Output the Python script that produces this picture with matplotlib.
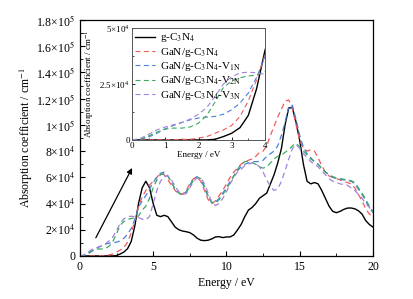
import numpy as np
import matplotlib
matplotlib.use("Agg")
import matplotlib.pyplot as plt
from matplotlib.ticker import MultipleLocator, FixedLocator, FuncFormatter

plt.rcParams['font.family'] = ['Liberation Serif', 'DejaVu Serif']
plt.rcParams['mathtext.fontset'] = 'stix'

# Photon energy (eV), 0.25 eV steps
energy = np.arange(0, 20.01, 0.25)

# Absorption coefficients, in units of 1e3 cm^-1
g_c3n4 = [0, 0, 0, 0, 0, 0, 0, 0, 0, 0, 0.3, 1.5, 3, 5.5, 11, 23,
          40, 52, 57, 52, 40, 31, 30, 31, 30, 26, 22, 20, 19, 18.5, 17.8, 16,
          13.5, 12, 11.7, 12, 13, 14.5, 14.7, 14, 14.5, 14.5, 16, 19.8, 24, 30, 35, 37,
          40, 44, 46, 48, 55, 62, 71, 82, 100, 113, 113, 102, 88, 70, 57, 55,
          56, 55, 50, 44, 38, 34, 33, 34, 35.5, 36.5, 36.6, 36, 34.5, 32, 27, 24, 22]
gan_g = [0, 0, 0, 0, 0.1, 0.1, 0.2, 0.3, 0.8, 1.5, 3, 4.5, 6.5, 10.5, 17.5, 27,
         38, 45, 50, 54, 57, 60, 63, 62, 58, 54, 50, 47, 47, 50, 55, 59,
         60, 57, 50, 43, 40, 42, 46, 50, 55, 60, 64, 67, 70, 72, 73, 74,
         76, 79, 80, 84, 92, 99, 106, 112, 118, 119, 112, 100, 88, 82, 80, 81,
         80, 75, 69, 64, 61, 60, 59, 58, 57, 56, 55, 52, 47, 42, 36, 32, 30]
gan_v1n = [0, 0.3, 1.3, 3, 5, 6.5, 7.8, 9, 9.8, 10.2, 10.5, 11.5, 13.5, 16.5, 21, 28,
           37, 42, 46, 51, 56, 60, 63, 64, 61, 56, 51, 48, 47, 49, 54, 59,
           60.5, 58, 52, 45, 40.5, 41, 44, 48, 52, 57, 61, 65, 68, 70, 71, 72,
           72, 72, 73, 76, 78, 80, 84, 92, 102, 114, 115, 104, 92, 83, 78, 75,
           72, 70, 67, 64, 62, 60, 59, 58.5, 58, 57.5, 57, 55, 51, 47, 42, 37, 33]
gan_v2n = [0, 0.3, 1.8, 3.5, 4.8, 5.3, 5.3, 5.8, 7.5, 11, 17, 23.5, 26.3, 27.8, 28.6, 29,
           30.5, 35, 38, 44, 52, 58, 62, 63, 61, 56, 51, 48, 47, 48, 53, 58,
           60, 59, 53, 46, 41, 40, 43, 47, 51, 56, 61, 66, 70, 72, 72, 71,
           70, 68, 67, 68, 71, 74, 76, 77, 79, 81, 84, 86, 83, 80, 77, 74,
           72, 70, 67, 64, 62, 60.5, 59.5, 59, 58.5, 58, 57.5, 56, 52, 48, 43, 38, 34]
gan_v3n = [0, 0.7, 2.5, 4.5, 5.8, 6.8, 7.8, 9.3, 11.5, 14.5, 19.5, 25, 28.3, 30, 30.3, 30,
           29.3, 28, 27.5, 30, 40, 50, 57, 61, 61, 58, 53, 49, 47, 47.5, 52, 57,
           59.5, 59.5, 55, 48, 41, 38.5, 40, 44, 49, 55, 60, 64, 66, 69, 70, 71,
           70.5, 68, 64, 58, 53, 50, 51, 57, 65, 74, 82, 85, 82, 78, 75, 72,
           70, 68, 65, 62, 59, 57, 56, 55, 54.5, 54, 52, 50, 47, 44, 40, 37, 34]

labels = ['g-C$_3$N$_4$', 'GaN/g-C$_3$N$_4$', r'GaN/g-C$_3$N$_4$-V$_\mathrm{1N}$',
          r'GaN/g-C$_3$N$_4$-V$_\mathrm{2N}$', r'GaN/g-C$_3$N$_4$-V$_\mathrm{3N}$']
series = [g_c3n4, gan_g, gan_v1n, gan_v2n, gan_v3n]
colors = ['black', '#f05a5a', '#4a80d8', '#3aaa60', '#a183dc']


def sci_fmt(v, pos):
    if v == 0:
        return '0'
    exp = int(np.floor(np.log10(abs(v)) + 1e-9))
    mant = v / 10 ** exp
    return f'{mant:g}×10$^{exp}$'


fig = plt.figure(figsize=(4.14, 2.99), dpi=100)
ax = fig.add_axes([0.193, 0.144, 0.708, 0.789])

for y, lab, c in zip(series, labels, colors):
    y = np.array(y) * 1e3
    if c == 'black':
        ax.plot(energy, y, color=c, lw=1.0, label=lab)
    else:
        ax.plot(energy, y, color=c, lw=0.9, dashes=(4.5, 3), label=lab)

ax.set_xlim(0, 20)
ax.set_ylim(0, 1.8e5)
ax.xaxis.set_major_locator(MultipleLocator(5))
ax.xaxis.set_minor_locator(MultipleLocator(2.5))
ax.yaxis.set_major_locator(MultipleLocator(2e4))
ax.yaxis.set_minor_locator(MultipleLocator(1e4))
ax.yaxis.set_major_formatter(FuncFormatter(sci_fmt))
ax.tick_params(which='both', direction='in', labelsize=8.5)
ax.tick_params(which='major', length=3.5, width=0.8)
ax.tick_params(which='minor', length=2, width=0.6)
ax.set_xlabel('Energy / eV', fontsize=8.5, labelpad=3)
ax.set_ylabel('Absorption coefficient / cm$^{-1}$', fontsize=8.5, labelpad=1)
for s in ax.spines.values():
    s.set_linewidth(0.9)

ax.annotate('', xy=(3.65, 69e3), xytext=(1.0, 12e3),
            arrowprops=dict(arrowstyle='-|>', color='black', lw=0.9,
                            mutation_scale=8))

# inset: low energy region
ins = fig.add_axes([0.319, 0.532, 0.321, 0.374])
for y, lab, c in zip(series, labels, colors):
    y = np.array(y) * 1e3
    if c == 'black':
        ins.plot(energy, y, color=c, lw=1.0, label=lab)
    else:
        ins.plot(energy, y, color=c, lw=0.8, dashes=(4.5, 3), label=lab)
ins.set_xlim(0, 4)
ins.set_ylim(0, 5e4)
ins.xaxis.set_major_locator(MultipleLocator(1))
ins.xaxis.set_minor_locator(MultipleLocator(0.5))
ins.yaxis.set_major_locator(FixedLocator([0, 2.5e4, 5e4]))
ins.yaxis.set_minor_locator(MultipleLocator(1.25e4))
ins.yaxis.set_major_formatter(FuncFormatter(sci_fmt))
ins.tick_params(which='both', direction='in', labelsize=6.5, pad=1.5)
ins.tick_params(which='major', length=2.5, width=0.6)
ins.tick_params(which='minor', length=1.5, width=0.5)
ins.set_xlabel('Energy / eV', fontsize=6.5, labelpad=1)
ins.set_ylabel('Absorption coefficient / cm$^{-1}$', fontsize=6.5, labelpad=2)
for s in ins.spines.values():
    s.set_linewidth(0.7)
    s.set_color('#555555')
ins.legend(loc='upper left', fontsize=8, handlelength=1.8, frameon=False,
           borderpad=0.2, labelspacing=0.12, handletextpad=0.4,
           borderaxespad=0.1)

fig.savefig('out.png', dpi=100)
